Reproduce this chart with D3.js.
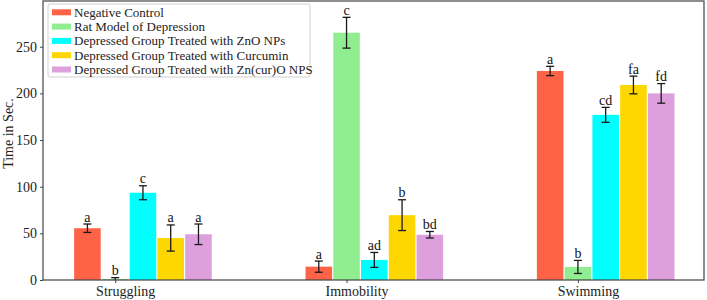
<!DOCTYPE html>
<html>
<head>
<meta charset="utf-8">
<script src="https://cdn.jsdelivr.net/npm/d3@7"></script>
<style>
  body { margin: 0; background: #fff; }
  svg { display: block; font-family: "Liberation Serif", "Times New Roman", serif; }
</style>
</head>
<body>
<svg id="chart" width="707" height="300"></svg>
<script>
// categories and groups
const categories = ["Struggling", "Immobility", "Swimming"];
const seriesNames = [
    "Negative Control",
    "Rat Model of Depression",
    "Depressed Group Treated with ZnO NPs",
    "Depressed Group Treated with Curcumin",
    "Depressed Group Treated with Zn(cur)O NPS"
];
const seriesColors = ["#ff6347", "#90ee90", "#00ffff", "#ffd700", "#dda0dd"];

// mean values (sec) per series, in category order
const negativeControl = [55.5, 14.3, 224];
const ratModel = [1, 265, 14];
const znoNPs = [93.5, 21.5, 177];
const curcumin = [45, 69.5, 209];
const zncurNPs = [49, 48.5, 200];

// error bar half-heights
const negativeErr = [4.5, 6, 5];
const ratErr = [1.5, 16.5, 7];
const znoErr = [7.5, 8, 8];
const curcuminErr = [14, 16.5, 9.5];
const zncurErr = [11, 3.5, 10.5];

// significance letters
const negativeLetters = ["a", "a", "a"];
const ratLetters = ["b", "c", "b"];
const znoLetters = ["c", "ad", "cd"];
const curcuminLetters = ["a", "b", "fa"];
const zncurLetters = ["a", "bd", "fd"];

const yTicks = [0, 50, 100, 150, 200, 250];

const series = [
    {values: negativeControl, err: negativeErr, letters: negativeLetters},
    {values: ratModel, err: ratErr, letters: ratLetters},
    {values: znoNPs, err: znoErr, letters: znoLetters},
    {values: curcumin, err: curcuminErr, letters: curcuminLetters},
    {values: zncurNPs, err: zncurErr, letters: zncurLetters}
].map((s, i) => ({...s, name: seriesNames[i], color: seriesColors[i], index: i}));

const barW = 0.12; // in group units, like matplotlib width

const margin = {top: 1, right: 3, bottom: 20, left: 43};
const width = 707, height = 300;

const x = d3.scaleLinear().domain([-0.192, 2.665]).range([margin.left, width - margin.right]);
const y = d3.scaleLinear().domain([0, 299]).range([height - margin.bottom, margin.top]);

const svg = d3.select("#chart");

// bars
const barPx = x(barW) - x(0);
const groups = svg.append("g").selectAll("g")
    .data(series)
    .enter().append("g");

const cells = s => s.values.map((v, ci) => ({
    s, ci, v, e: s.err[ci], letter: s.letters[ci],
    cx: x(ci + s.index * barW)
}));

groups.selectAll("rect")
    .data(cells)
    .enter().append("rect")
    .attr("x", d => d.cx - barPx / 2 + 0.6)
    .attr("width", barPx - 1.2)
    .attr("y", d => y(d.v))
    .attr("height", d => y(0) - y(d.v))
    .attr("fill", d => d.s.color);

// error bars
const errG = groups.selectAll("g.err")
    .data(cells)
    .enter().append("g")
    .attr("class", "err")
    .attr("stroke", "#1a1a1a")
    .attr("stroke-width", 1.3);

errG.append("line")
    .attr("x1", d => d.cx).attr("x2", d => d.cx)
    .attr("y1", d => y(Math.max(0, d.v - d.e)))
    .attr("y2", d => y(d.v + d.e));
errG.append("line")
    .attr("x1", d => d.cx - 4).attr("x2", d => d.cx + 4)
    .attr("y1", d => y(d.v + d.e)).attr("y2", d => y(d.v + d.e));
errG.filter(d => d.v - d.e > 0).append("line")
    .attr("x1", d => d.cx - 4).attr("x2", d => d.cx + 4)
    .attr("y1", d => y(d.v - d.e)).attr("y2", d => y(d.v - d.e));

// letters
groups.selectAll("text")
    .data(cells)
    .enter().append("text")
    .attr("x", d => d.cx)
    .attr("y", d => y(d.v + d.e) - 2.5)
    .attr("text-anchor", "middle")
    .attr("font-size", "14px")
    .attr("fill", "#111")
    .text(d => d.letter);

// frame
svg.append("rect")
    .attr("x", margin.left).attr("y", margin.top)
    .attr("width", width - margin.right - margin.left)
    .attr("height", y(0) - margin.top)
    .attr("fill", "none")
    .attr("stroke", "#444")
    .attr("stroke-width", 1.2);

// y axis
const yAxis = svg.append("g")
    .attr("transform", `translate(${margin.left},0)`)
    .call(d3.axisLeft(y).tickValues(yTicks).tickSize(3).tickPadding(3));
yAxis.select(".domain").remove();
yAxis.selectAll("text").attr("font-size", "14px").attr("font-family", "Liberation Serif").attr("fill", "#222");
yAxis.selectAll("line").attr("stroke", "#444");

// x axis: ticks at second bar, labels shifted right slightly
const xAxis = svg.append("g")
    .attr("transform", `translate(0,${y(0)})`)
    .call(d3.axisBottom(x).tickValues(categories.map((c, i) => i + barW))
        .tickFormat((d, i) => categories[i]).tickSize(3).tickPadding(3));
xAxis.select(".domain").remove();
xAxis.selectAll("text").attr("font-size", "14px").attr("font-family", "Liberation Serif")
    .attr("fill", "#222").attr("dx", 10);
xAxis.selectAll("line").attr("stroke", "#444");

// y label
svg.append("text")
    .attr("transform", `translate(13,${y(157)}) rotate(-90)`)
    .attr("text-anchor", "middle")
    .attr("font-size", "14px")
    .attr("fill", "#222")
    .text("Time in Sec.");

// legend
const legend = svg.append("g").attr("transform", "translate(48,4)");
legend.append("rect")
    .attr("width", 262).attr("height", 73).attr("rx", 2)
    .attr("fill", "#fff").attr("fill-opacity", 0.8)
    .attr("stroke", "#d0d0d0");
const item = legend.selectAll("g.item")
    .data(series)
    .enter().append("g")
    .attr("class", "item")
    .attr("transform", (d, i) => `translate(4,${8.3 + i * 14.3})`);
item.append("rect")
    .attr("x", 0).attr("y", -3).attr("width", 19).attr("height", 6)
    .attr("fill", d => d.color);
item.append("text")
    .attr("x", 22).attr("y", 4.5)
    .attr("font-size", "13px")
    .attr("fill", "#222")
    .text(d => d.name);
</script>
</body>
</html>
